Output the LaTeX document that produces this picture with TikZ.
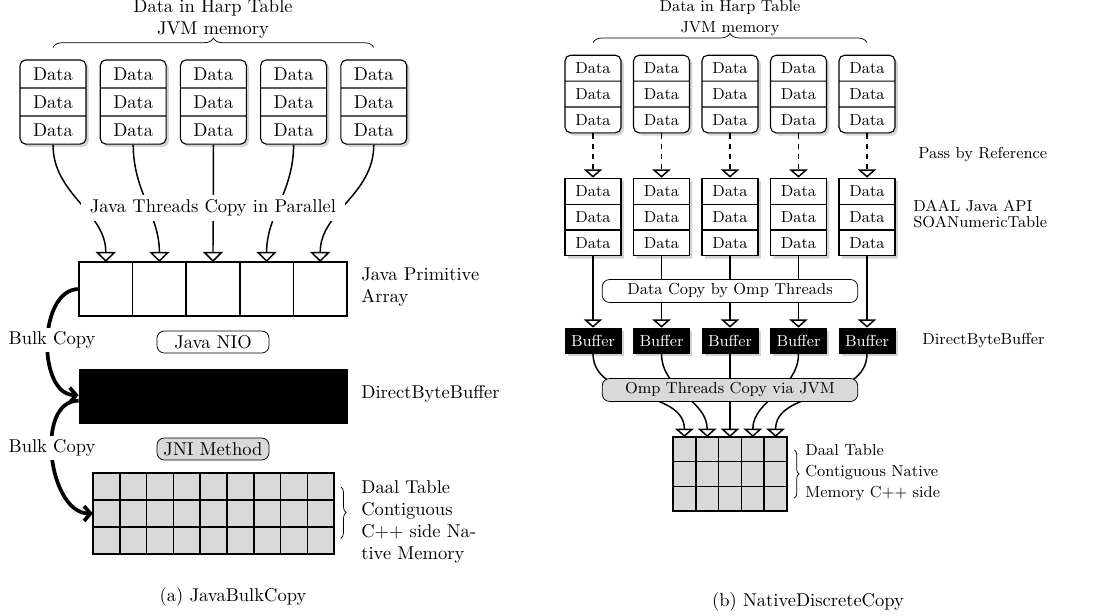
\documentclass[tikz,border=0pt]{standalone}
\usetikzlibrary{arrows.meta,shapes.multipart,shadows,decorations.pathreplacing}

\tikzset{
  shadowed/.style={drop shadow={shadow xshift=1.5pt,shadow yshift=-1.5pt,opacity=0.35}},
  rtext/.style={font=\fontsize{8.6}{11.3}\selectfont},
  datablk/.style={rectangle split,rectangle split parts=3,draw,semithick,fill=white,
    rounded corners=3pt,minimum width=35.6pt,inner xsep=2pt,inner ysep=3.8pt,shadowed},
  rdatablk/.style={datablk,rtext,minimum width=30.2pt,inner ysep=3.7pt},
  soablk/.style={rdatablk,rounded corners=0pt},
  bufblk/.style={rtext,draw,fill=black,text=white,minimum width=30.2pt,minimum height=13.5pt,inner sep=0pt,shadowed},
  cell/.style={draw,thick,minimum width=28.9pt,minimum height=29.2pt,inner sep=0pt,outer sep=0pt},
  lcell/.style={draw,thick,fill=gray!30,minimum width=14.5pt,minimum height=14.6pt,inner sep=0pt,outer sep=0pt},
  rcell/.style={lcell,minimum width=12.3pt,minimum height=13.3pt},
  tag/.style={draw,rounded corners=4pt,fill=white,inner sep=0pt},
  tri/.style={thick,-{Triangle[width=11pt,length=5.5pt,fill=white]}},
  rtri/.style={thick,-{Triangle[width=10pt,length=4.5pt,fill=white]}},
  bulk/.style={line width=2pt,-{Straight Barb[length=3.5pt,width=8pt]}},
  memo/.style={anchor=west,align=left,inner sep=0pt},
  brc/.style={decorate,decoration={brace,amplitude=#1}},
}

\begin{document}
\begin{tikzpicture}[x=0.54pt,y=-0.54pt]
\useasboundingbox (0,0) rectangle (1095,615);

% (a) JavaBulkCopy
\foreach \i in {1,...,5}{
  \node[datablk] (hd\i) at ({53+80.2*(\i-1)},102) {Data\nodepart{two}Data\nodepart{three}Data};
  \node[cell] (arr\i) at ({105.8+53.6*(\i-1)},289) {};
}
\node[draw,fill=black,minimum width=144.7pt,minimum height=29.2pt,inner sep=0pt] (dbb) at (213,396) {};
\foreach \i in {1,...,9}
  \foreach \j in {1,2,3}
    \node[lcell] (lc\i-\j) at ({106.4+26.8*(\i-1)},{486.5+27*(\j-1)}) {};

\foreach \i in {1,...,5}
  \draw[tri] (hd\i.south) to[out=-90,in=90] (arr\i.north);
\draw[bulk] (arr1.west) to[out=180,in=180] ([yshift=0.5pt]dbb.west);
\draw[bulk] ([yshift=-2.5pt]dbb.west) to[out=180,in=180] (lc1-2.west);

\node[fill=white,inner xsep=5pt,inner ysep=2.5pt] (jtc) at (213,208) {Java Threads Copy in Parallel};
\node[fill=white,inner sep=2pt] (bc1) at (52,340) {Bulk Copy};
\node[fill=white,inner sep=2pt] (bc2) at (52,448) {Bulk Copy};
\node[tag,minimum width=60.5pt,minimum height=11.9pt] (nio) at (213,342) {Java NIO};
\node[tag,fill=gray!30,minimum width=60.5pt,minimum height=11.9pt] (jni) at (213,449) {JNI Method};

\draw[brc=5pt] ([yshift=6.5pt]hd1.north) -- ([yshift=6.5pt]hd5.north);
\node[align=center] (ltitle) at (213,19) {Data in Harp Table\\JVM memory};
\node[memo] (lpa) at (361,287) {Java Primitive\\Array};
\node[memo] (ldbb) at (361,394) {DirectByteBuffer};
\draw[brc=3pt] ([xshift=3.5pt,yshift=-7.5pt]lc9-1.north east) -- ([xshift=3.5pt,yshift=8.5pt]lc9-3.south east);
\node[memo] (ldaal) at (361,522) {Daal Table\\Contiguous\\C++ side Na-\\tive Memory};
\node (capa) at (233,597) {(a) JavaBulkCopy};

% (b) NativeDiscreteCopy
\foreach \i in {1,...,5}{
  \node[rdatablk] (rt\i) at ({593+68.5*(\i-1)},94) {Data\nodepart{two}Data\nodepart{three}Data};
  \node[soablk] (rs\i) at ({593+68.5*(\i-1)},217) {Data\nodepart{two}Data\nodepart{three}Data};
  \node[bufblk] (rb\i) at ({593+68.5*(\i-1)},340.5) {Buffer};
}
\foreach \i in {1,...,5}
  \foreach \j in {1,2,3}
    \node[rcell] (rc\i-\j) at ({684.4+22.8*(\i-1)},{449.3+24.7*(\j-1)}) {};

\foreach \i in {1,...,5}{
  \draw[rtri,dash pattern=on 3pt off 2.5pt] (rt\i.south) -- (rs\i.north);
  \draw[rtri] (rs\i.south) -- (rb\i.north);
  \draw[rtri] (rb\i.south) to[out=-90,in=90] (rc\i-1.north);
}

\node[tag,rtext,minimum width=138pt,minimum height=12.4pt] (dcopy) at (730,291) {Data Copy by Omp Threads};
\node[tag,rtext,fill=gray!30,minimum width=138pt,minimum height=12.4pt] (ompjvm) at (730,390) {Omp Threads Copy via JVM};

\draw[brc=5pt] ([yshift=6.5pt]rt1.north) -- ([yshift=6.5pt]rt5.north);
\node[rtext,align=center] (rtitle) at (730,18) {Data in Harp Table\\JVM memory};
\node[memo,rtext] (rpass) at (918,155) {Pass by Reference};
\node[memo,rtext] (rsoa) at (913,214) {DAAL Java API\\[-2.8pt]SOANumericTable};
\node[memo,rtext] (rdbb) at (922,341) {DirectByteBuffer};
\draw[brc=2.5pt] ([xshift=4pt,yshift=-7pt]rc5-1.north east) -- ([xshift=4pt,yshift=7pt]rc5-3.south east);
\node[memo,rtext] (rdaal) at (805,473) {Daal Table\\Contiguous Native\\Memory C++ side};
\node (capb) at (808,602) {(b) NativeDiscreteCopy};
\end{tikzpicture}
\end{document}
